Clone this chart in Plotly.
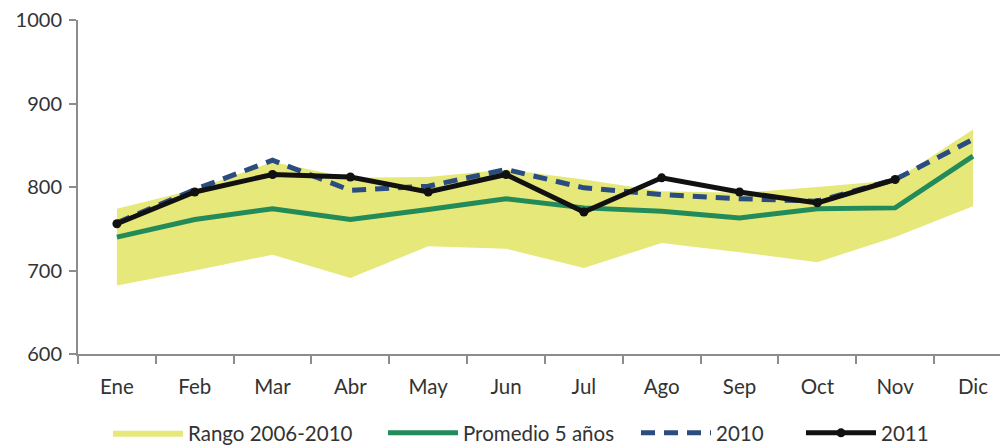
import plotly.graph_objects as go

months = ["Ene", "Feb", "Mar", "Abr", "May", "Jun", "Jul", "Ago", "Sep", "Oct", "Nov", "Dic"]
range_min = [682, 700, 719, 691, 729, 726, 703, 733, 722, 710, 740, 777]
range_max = [774, 797, 830, 811, 812, 821, 809, 795, 793, 800, 808, 869]
promedio = [740, 761, 774, 761, 773, 786, 775, 771, 763, 774, 775, 837]
y2010 = [757, 797, 832, 796, 801, 821, 799, 791, 786, 783, 809, 857]
y2011 = [756, 794, 815, 812, 794, 815, 770, 811, 794, 781, 809]

FONT = "Lato"
# the page places the figure 8px from the top-left corner (body margin)
OFF = 8
fig = go.Figure()
fig.add_trace(go.Scatter(x=months, y=range_min, mode="lines", line=dict(width=0, color="#E6E87A"),
                         showlegend=False, hoverinfo="skip"))
fig.add_trace(go.Scatter(x=months, y=range_max, mode="lines", line=dict(width=0, color="#E6E87A"),
                         fill="tonexty", fillcolor="#E6E87A", name="Rango 2006-2010", legend="legend"))
fig.add_trace(go.Scatter(x=months, y=promedio, mode="lines", line=dict(width=5, color="#238A5A"),
                         name="Promedio 5 años", legend="legend2"))
fig.add_trace(go.Scatter(x=months, y=y2010, mode="lines",
                         line=dict(width=5, color="#2B4C80", dash="14px,9px"),
                         name="2010", legend="legend3"))
fig.add_trace(go.Scatter(x=months[:len(y2011)], y=y2011, mode="lines+markers",
                         line=dict(width=5, color="#111111"), marker=dict(size=9, color="#111111"),
                         name="2011", legend="legend4"))

PLOT_L = 78
PLOT_W = 930
PLOT_H = 445 - 20 - 91

def leg(xpx):
    return dict(x=(xpx - PLOT_L) / PLOT_W, y=-79 / PLOT_H, xanchor="left", yanchor="middle",
                orientation="h", font=dict(family=FONT, size=20.5, color="#333333"), itemwidth=70,
                bgcolor="rgba(0,0,0,0)", tracegroupgap=0)

fig.update_layout(
    width=1008 - OFF, height=445 - OFF,
    margin=dict(l=PLOT_L - OFF, r=0, t=20 - OFF, b=91, autoexpand=False),
    paper_bgcolor="white", plot_bgcolor="white",
    font=dict(family=FONT, size=20, color="#333333"),
    xaxis=dict(type="category", range=[-0.5, 11.45], showline=True, linecolor="#8c8c8c", linewidth=2,
               ticks="outside", tickson="boundaries", ticklen=8, tickcolor="#8c8c8c", tickwidth=2,
               showgrid=False, automargin=False, ticklabelstandoff=13,
               tickfont=dict(family=FONT, size=20.5, color="#333333")),
    yaxis=dict(range=[600, 1000], dtick=100, showline=True, linecolor="#8c8c8c", linewidth=2,
               ticks="outside", ticklen=7, tickcolor="#8c8c8c", tickwidth=2, showgrid=False,
               zeroline=False, automargin=False, ticklabelstandoff=3, ticklabeloverflow="allow",
               tickfont=dict(family=FONT, size=20, color="#333333")),
    legend=leg(108),
    legend2=leg(383),
    legend3=leg(636),
    legend4=leg(801),
    hovermode=False,
)
fig.write_html("out.html")
